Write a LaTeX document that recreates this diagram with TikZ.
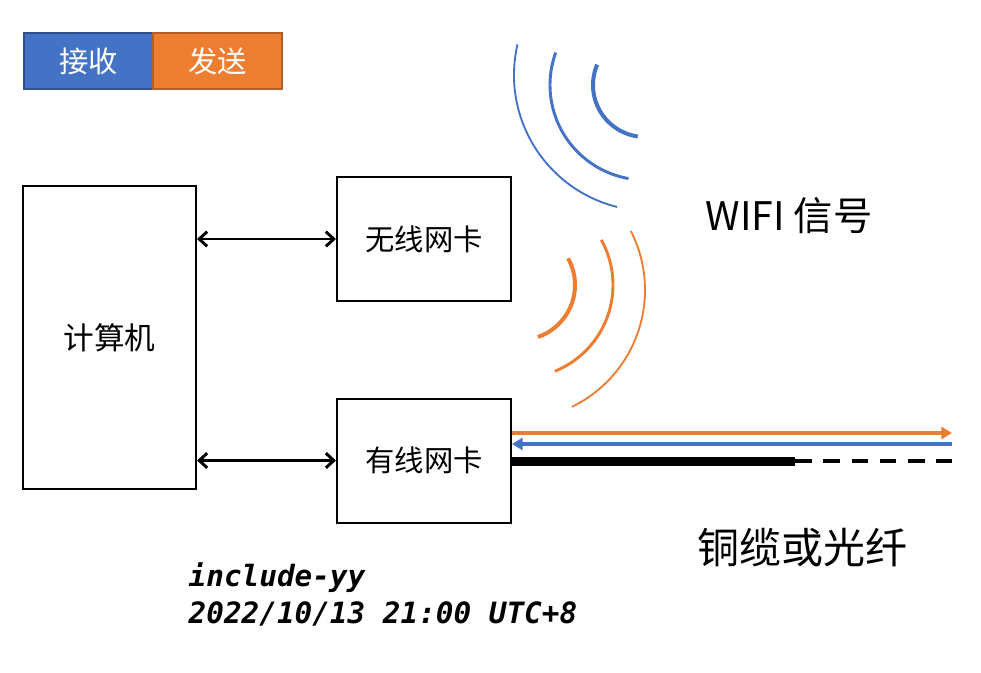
\documentclass[tikz,border=0pt]{standalone}
\usepackage{fontspec}
\setmainfont{Noto Sans CJK SC}
\newfontfamily\monofont{DejaVu Sans Mono}
\usetikzlibrary{arrows.meta}
\definecolor{rxblue}{HTML}{4472C4}
\definecolor{txorange}{HTML}{ED7D31}
\tikzset{
    card/.style={draw, line width=1.5pt, minimum width=174*0.75pt, minimum height=124*0.75pt, font=\fontsize{22}{24}\selectfont},
    legend/.style={draw, line width=1pt, text=white, minimum width=129*0.75pt, minimum height=56*0.75pt, font=\fontsize{22}{24}\selectfont},
    link/.style={line width=2.2pt, {Straight Barb[length=6pt,width=11pt]}-{Straight Barb[length=6pt,width=11pt]}},
}
\begin{document}
\begin{tikzpicture}[x=0.75pt, y=0.75pt]
        \useasboundingbox (0,0) rectangle (981,-673);
        % legend
        \node[legend, fill=rxblue, draw=rxblue!70!black] (rx) at (88.5,-61) {接收};
        \node[legend, fill=txorange, draw=txorange!75!black] (tx) at (217.5,-61) {发送};
        % boxes
        \node[card, minimum width=173*0.75pt, minimum height=303*0.75pt, font=\fontsize{23}{25}\selectfont] (pc) at (109.5,-337.5) {计算机};
        \node[card] (wlan) at (424,-239) {无线网卡};
        \node[card] (eth) at (424,-460.5) {有线网卡};
        \draw[link] (pc.east |- wlan.west) -- (wlan.west);
        \draw[link] (pc.east |- eth.west) -- (eth.west);
        % wifi arcs
        \foreach \cx/\cy/\r/\a/\b/\w in {645/85/52/157/262/3, 645/85/95/160/260/2.2, 650/75/136/167/256/1.4}
        {
            \draw[rxblue, line width=\w pt] ([shift={(\a:\r)}]\cx,-\cy) arc[start angle=\a, end angle=\b, radius=\r];
        }
        \foreach \cx/\cy/\r/\a/\b/\w in {520/285/55/29/-71/3, 520/285/93/29/-68/2.2, 515/290/130/27/-64/1.4}
        {
            \draw[txorange, line width=\w pt] ([shift={(\a:\r)}]\cx,-\cy) arc[start angle=\a, end angle=\b, radius=\r];
        }
        \node[font=\fontsize{29.5}{31}\selectfont] (wifi) at (789,-216) {WIFI 信号};
        % cable
        \coordinate (txend) at (952,-433);
        \coordinate (rxend) at (952,-444);
        \coordinate (cut) at (795,-461);
        \coordinate (cableend) at (952,-461);
        \draw[txorange, line width=3pt, -{Triangle[length=8pt,width=9pt]}] (eth.east |- txend) -- (txend);
        \draw[rxblue, line width=3pt, {Triangle[length=8pt,width=9pt]}-] (eth.east |- rxend) -- (rxend);
        \draw[line width=6.75pt] (eth.east |- cut) -- (cut);
        \draw[line width=3pt, dash pattern=on 12.5pt off 8.7pt] (cut) -- (cableend);
        \node[font=\fontsize{31.5}{33}\selectfont] (cable) at (802,-548) {铜缆或光纤};
        % signature
        \node[anchor=west, font=\monofont\bfseries\itshape\fontsize{22}{24}\selectfont] (who) at (184,-578) {include-yy};
        \node[anchor=west, font=\monofont\bfseries\itshape\fontsize{22}{24}\selectfont] (when) at (184,-614) {2022/10/13 21:00 UTC+8};
    \end{tikzpicture}
\end{document}
